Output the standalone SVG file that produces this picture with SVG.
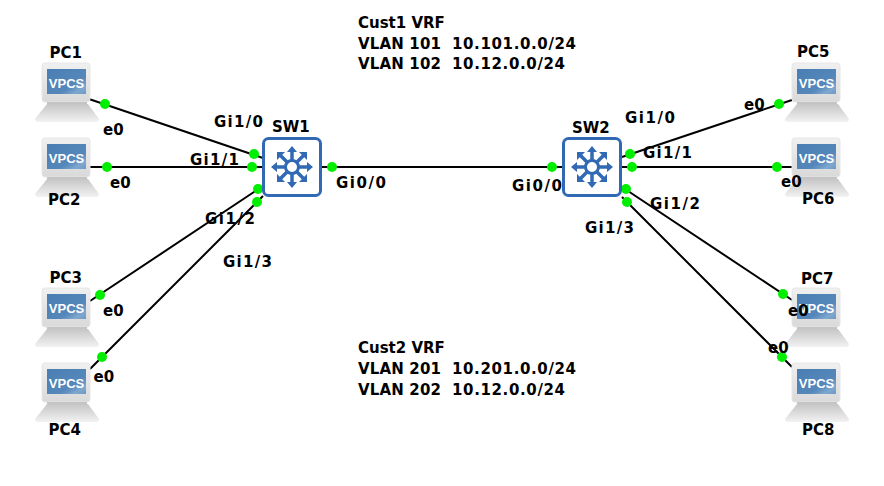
<svg xmlns="http://www.w3.org/2000/svg" width="884" height="486" viewBox="0 0 884 486">
<style>
text{font-family:"DejaVu Sans","Liberation Sans",sans-serif;font-weight:bold;font-size:15px;fill:#000}
.lnk{stroke:#000;stroke-width:2;fill:none}
.dot{fill:#00ee00;stroke:none}
.sw{fill:#fff;stroke:#3269b4;stroke-width:3}
.ar{stroke:#3269b4;stroke-width:3.500;fill:none}
.ah{fill:#3269b4}
.vp{font-family:"Liberation Sans",sans-serif;font-size:13px;fill:#fff}
</style>
<defs>
<linearGradient id="bg" x1="0" y1="0" x2="0" y2="1"><stop offset="0" stop-color="#f0f0f0"/><stop offset="1" stop-color="#d9d9d9"/></linearGradient>
<linearGradient id="bs" x1="0" y1="0" x2="0" y2="1"><stop offset="0" stop-color="#c6c6c6"/><stop offset="1" stop-color="#f2f2f2"/></linearGradient>
<linearGradient id="sc" x1="0" y1="0" x2="1" y2="1"><stop offset="0" stop-color="#4a7eb2"/><stop offset=".65" stop-color="#5587ba"/><stop offset=".85" stop-color="#7fa8cf"/><stop offset="1" stop-color="#6b98c4"/></linearGradient>
<g id="pc">
<rect x="7" y="-1" width="48" height="39" rx="3" fill="url(#bg)" stroke="#e6e6e6"/>
<rect x="12" y="5" width="39" height="25" fill="url(#sc)"/>
<rect x="12" y="38" width="40" height="3" fill="#c4c4c4"/>
<path d="M12 40H53L64 55Q64 58 61 58H3Q0 58 0 55Z" fill="url(#bs)"/>
<text class="vp" x="31.500" y="24" text-anchor="middle">VPCS</text>
</g>
<g id="swi">
<rect x="1.500" y="1.500" width="57" height="57" rx="5" class="sw"/>
<circle cx="30" cy="30" r="6.500" fill="#fff" stroke="#3269b4" stroke-width="3"/>
<path class="ar" d="M30 23V14M30 37V46M23 30H14M37 30H46M25 25L18 18M35 25L42 18M25 35L18 42M35 35L42 42"/>
<path class="ah" d="M30 9L35 15H25ZM30 51L25 45H35ZM9 30L15 25V35ZM51 30L45 35V25ZM15 15H23L15 23ZM45 15V23L37 15ZM15 45V37L23 45ZM45 45H37L45 37Z"/>
</g>
</defs>
<g id="connectors">
<path class="lnk" d="M89 99L263 158M90 167H263M90 301L263 186M90 369L263 196M322 167H563M622 157L792 100M622 167H792M622 187L792 300M622 197L792 367"/>
<g class="dot">
<circle cx="105" cy="104" r="5"/><circle cx="254" cy="154" r="5"/>
<circle cx="107" cy="167" r="5"/><circle cx="252" cy="167" r="5"/>
<circle cx="100" cy="295" r="5"/><circle cx="258" cy="189" r="5"/>
<circle cx="102" cy="357" r="5"/><circle cx="257" cy="202" r="5"/>
<circle cx="332" cy="167" r="5"/><circle cx="552" cy="167" r="5"/>
<circle cx="630" cy="154" r="5"/><circle cx="779" cy="104" r="5"/>
<circle cx="632" cy="167" r="5"/><circle cx="777" cy="167" r="5"/>
<circle cx="626" cy="189" r="5"/><circle cx="783" cy="294" r="5"/>
<circle cx="627" cy="202" r="5"/><circle cx="782" cy="357" r="5"/>
</g>
</g>
<g id="PC1"><use href="#pc" x="35" y="64"/><text x="49.500" y="58">PC1</text><text x="103" y="135">e0</text></g>
<g id="PC2"><use href="#pc" x="35" y="139"/><text x="48" y="205">PC2</text><text x="110" y="188">e0</text></g>
<g id="PC3"><use href="#pc" x="35" y="289"/><text x="49.500" y="283">PC3</text><text x="103" y="316">e0</text></g>
<g id="PC4"><use href="#pc" x="35" y="364"/><text x="48.500" y="435">PC4</text><text x="93.500" y="382">e0</text></g>
<g id="PC5"><use href="#pc" x="785" y="64"/><text x="797" y="57">PC5</text><text x="744" y="110">e0</text></g>
<g id="PC6"><use href="#pc" x="785" y="139"/><text x="802" y="204">PC6</text><text x="781" y="187">e0</text></g>
<g id="PC7"><use href="#pc" x="785" y="289"/><text x="801" y="284">PC7</text><text x="788" y="316">e0</text></g>
<g id="PC8"><use href="#pc" x="785" y="364"/><text x="802" y="435">PC8</text><text x="768" y="353">e0</text></g>
<g id="SW1"><use href="#swi" x="262" y="137"/><text x="272" y="132">SW1</text>
<text x="214" y="127" textLength="49">Gi1/0</text><text x="190" y="165" textLength="49">Gi1/1</text><text x="205" y="224" textLength="50">Gi1/2</text><text x="223" y="267" textLength="49">Gi1/3</text><text x="336" y="188" textLength="50">Gi0/0</text></g>
<g id="SW2"><use href="#swi" x="562" y="137"/><text x="572" y="133">SW2</text>
<text x="625" y="123" textLength="50">Gi1/0</text><text x="643" y="158" textLength="49">Gi1/1</text><text x="650" y="209" textLength="50">Gi1/2</text><text x="585" y="233" textLength="49">Gi1/3</text><text x="512" y="191" textLength="50">Gi0/0</text></g>
<g id="notes">
<text x="358" y="28">Cust1 VRF</text><text x="358" y="49" textLength="83">VLAN 101</text><text x="452" y="49" textLength="124">10.101.0.0/24</text><text x="358" y="69" textLength="83">VLAN 102</text><text x="452" y="69" textLength="113">10.12.0.0/24</text>
<text x="358" y="353">Cust2 VRF</text><text x="358" y="374" textLength="83">VLAN 201</text><text x="452" y="374" textLength="124">10.201.0.0/24</text><text x="358" y="395" textLength="83">VLAN 202</text><text x="452" y="395" textLength="113">10.12.0.0/24</text>
</g>
</svg>
